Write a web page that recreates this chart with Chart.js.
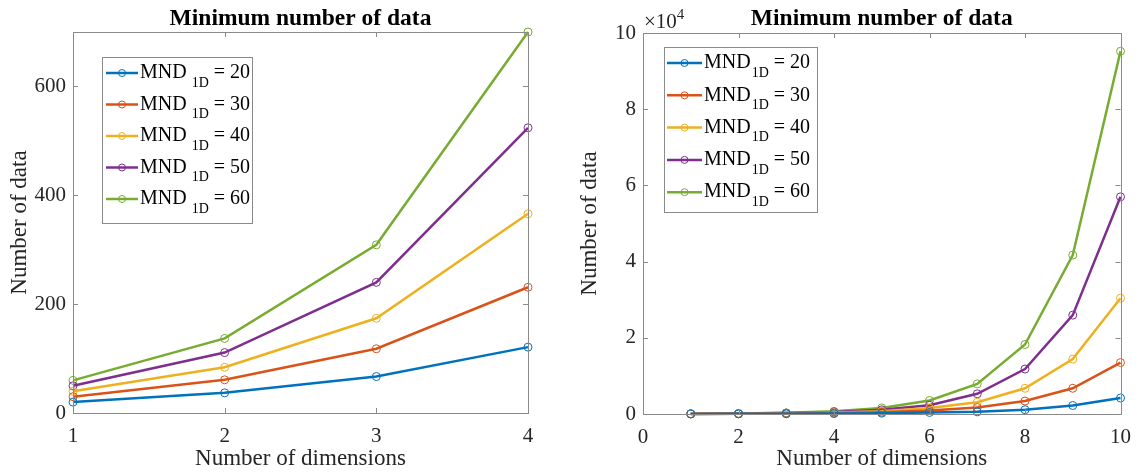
<!DOCTYPE html>
<html>
<head>
<meta charset="utf-8">
<script src="https://cdn.jsdelivr.net/npm/chart.js@4.4.1/dist/chart.umd.min.js"></script>
<style>
  html, body { margin: 0; padding: 0; background: #fff; }
  #wrap { position: relative; width: 1142px; height: 473px; }
  .panel { position: absolute; top: 0; height: 473px; }
</style>
</head>
<body>
<div id="wrap">
  <div class="panel" style="left:0;width:560px"><canvas id="leftChart"></canvas></div>
  <div class="panel" style="left:570px;width:572px"><canvas id="rightChart"></canvas></div>
</div>
<script>
// values
const seriesNames = ['20', '30', '40', '50', '60']
const colors = ['#0072BD', '#D95319', '#EDB120', '#7E2F8E', '#77AC30']

const dimsLeft = [1, 2, 3, 4]
const mnd20Left = [20, 37, 67, 121]
const mnd30Left = [30, 61, 118, 231]
const mnd40Left = [40, 84, 174, 366]
const mnd50Left = [50, 111, 240, 524]
const mnd60Left = [60, 137, 309, 700]

const dimsRight = [1, 2, 3, 4, 5, 6, 7, 8, 9, 10]
const mnd20Right = [20, 37, 67, 121, 220, 400, 560, 1120, 2230, 4200]
const mnd30Right = [30, 61, 118, 231, 470, 900, 1700, 3400, 6750, 13500]
const mnd40Right = [40, 84, 174, 366, 750, 1550, 3100, 6750, 14400, 30400]
const mnd50Right = [50, 111, 240, 524, 1100, 2300, 5300, 11800, 25950, 57000]
const mnd60Right = [60, 137, 309, 700, 1600, 3550, 7900, 18250, 41700, 95200]

const leftYTicks = [0, 200, 400, 600]
const titleText = 'Minimum number of data'
const xTitle = 'Number of dimensions'
const yTitle = 'Number of data'

const FONT = "'Liberation Serif', 'Times New Roman', serif"
const TXT = '#262626'
const BOX = '#8a8a8a'

function makeDatasets(xs, rows) {
    return rows.map((ys, i) => ({
        label: 'MND 1D = ' + seriesNames[i],
        data: xs.map((x, j) => ({ x: x, y: ys[j] })),
        borderColor: colors[i],
        backgroundColor: 'transparent',
        borderWidth: 2.5,
        pointRadius: 4,
        pointBorderWidth: 1,
        pointBackgroundColor: 'transparent',
        pointBorderColor: colors[i],
        tension: 0,
        clip: false
    }))
}

// box, inward ticks, title, legend with subscripts
const matlabLook = {
    id: 'matlabLook',
    afterDraw(chart, args, o) {
        const ctx = chart.ctx
        const a = chart.chartArea
        const xs = chart.scales.x, ys = chart.scales.y
        ctx.save()
        ctx.strokeStyle = BOX
        ctx.lineWidth = 1
        ctx.strokeRect(Math.round(a.left) + 0.5, Math.round(a.top) + 0.5,
            Math.round(a.right - a.left), Math.round(a.bottom - a.top))
        ctx.beginPath()
        xs.ticks.forEach(t => {
            const px = Math.round(xs.getPixelForValue(t.value)) + 0.5
            ctx.moveTo(px, a.bottom); ctx.lineTo(px, a.bottom - 5)
            ctx.moveTo(px, a.top); ctx.lineTo(px, a.top + 5)
        })
        ys.ticks.forEach(t => {
            const py = Math.round(ys.getPixelForValue(t.value)) + 0.5
            ctx.moveTo(a.left, py); ctx.lineTo(a.left + 5, py)
            ctx.moveTo(a.right, py); ctx.lineTo(a.right - 5, py)
        })
        ctx.stroke()

        // title
        ctx.fillStyle = '#000'
        ctx.font = 'bold 23.5px ' + FONT
        ctx.textAlign = 'center'
        ctx.textBaseline = 'middle'
        ctx.fillText(titleText, (a.left + a.right) / 2, o.titleY)

        // exponent label
        if (o.exponent) {
            ctx.fillStyle = TXT
            ctx.textAlign = 'left'
            ctx.textBaseline = 'alphabetic'
            ctx.font = '21px ' + FONT
            ctx.fillText('\u00d710', a.left + 1, 28)
            const w = ctx.measureText('\u00d710').width
            ctx.font = '15px ' + FONT
            ctx.fillText('4', a.left + 1 + w, 19)
        }

        // legend
        const L = o.legend
        ctx.fillStyle = '#fff'
        ctx.fillRect(L.x, L.y, L.w, L.h)
        ctx.strokeStyle = BOX
        ctx.strokeRect(L.x + 0.5, L.y + 0.5, L.w, L.h)
        chart.data.datasets.forEach((ds, i) => {
            const y = L.row0 + i * L.gap
            ctx.strokeStyle = colors[i]
            ctx.lineWidth = 2.5
            ctx.beginPath()
            ctx.moveTo(L.line0, y); ctx.lineTo(L.line1, y)
            ctx.stroke()
            ctx.lineWidth = 1
            ctx.beginPath()
            ctx.arc((L.line0 + L.line1) / 2, y, 3.5, 0, Math.PI * 2)
            ctx.stroke()

            ctx.fillStyle = '#000'
            ctx.textAlign = 'left'
            ctx.textBaseline = 'middle'
            ctx.font = '20px ' + FONT
            let tx = L.text
            ctx.fillText('MND', tx, y)
            tx += ctx.measureText('MND').width + L.subGap
            ctx.font = '14px ' + FONT
            ctx.fillText('1D', tx, y + 10)
            tx += ctx.measureText('1D').width
            ctx.font = '20px ' + FONT
            ctx.fillText(' = ' + seriesNames[i], tx, y)
        })
        ctx.restore()
    }
}

function makeChart(id, cfg) {
    const ctx = document.getElementById(id).getContext('2d')
    return new Chart(ctx, {
        type: 'line',
        data: { datasets: makeDatasets(cfg.xs, cfg.rows) },
        options: {
            responsive: true,
            maintainAspectRatio: false,
            animation: false,
            layout: { padding: { top: cfg.top, right: cfg.right, left: 0, bottom: 0 } },
            plugins: {
                legend: { display: false },
                title: { display: false },
                tooltip: { enabled: false },
                matlabLook: { titleY: 18.5, exponent: cfg.exponent, legend: cfg.legend }
            },
            scales: {
                x: {
                    type: 'linear',
                    min: cfg.xMin, max: cfg.xMax,
                    ticks: { stepSize: cfg.xStep, color: TXT, padding: 11, maxRotation: 0,
                        font: { family: FONT, size: 21 } },
                    grid: { display: false, drawTicks: false },
                    border: { display: false },
                    title: { display: true, text: xTitle, color: TXT,
                        font: { family: FONT, size: 23 }, padding: { top: 0, bottom: 0 } },
                    afterFit: s => { s.height = cfg.xHeight }
                },
                y: {
                    type: 'linear',
                    min: 0, max: cfg.yMax,
                    ticks: { stepSize: cfg.yStep, color: TXT, padding: 7,
                        font: { family: FONT, size: 21 },
                        callback: v => cfg.exponent ? v / 10000 : v },
                    afterBuildTicks: s => {
                        if (!cfg.exponent) s.ticks = leftYTicks.map(v => ({ value: v }))
                    },
                    grid: { display: false, drawTicks: false },
                    border: { display: false },
                    title: { display: true, text: yTitle, color: TXT,
                        font: { family: FONT, size: 23 }, padding: { top: 6, bottom: 0 } },
                    afterFit: s => { s.width = cfg.yWidth }
                }
            }
        },
        plugins: [matlabLook]
    })
}

makeChart('leftChart', {
    xs: dimsLeft,
    rows: [mnd20Left, mnd30Left, mnd40Left, mnd50Left, mnd60Left],
    xMin: 1, xMax: 4, xStep: 1, yMax: 700, yStep: 200,
    top: 32, right: 32, yWidth: 73, xHeight: 60, exponent: false,
    legend: { x: 102, y: 57, w: 150, h: 166, row0: 73, gap: 31.5, line0: 106, line1: 138, text: 140, subGap: 5 }
})

makeChart('rightChart', {
    xs: dimsRight,
    rows: [mnd20Right, mnd30Right, mnd40Right, mnd50Right, mnd60Right],
    xMin: 0, xMax: 10, xStep: 2, yMax: 100000, yStep: 20000,
    top: 33, right: 20, yWidth: 73, xHeight: 59, exponent: true,
    legend: { x: 94, y: 47, w: 153, h: 165, row0: 63, gap: 32.3, line0: 97, line1: 132, text: 134, subGap: 1 }
})
</script>
</body>
</html>
